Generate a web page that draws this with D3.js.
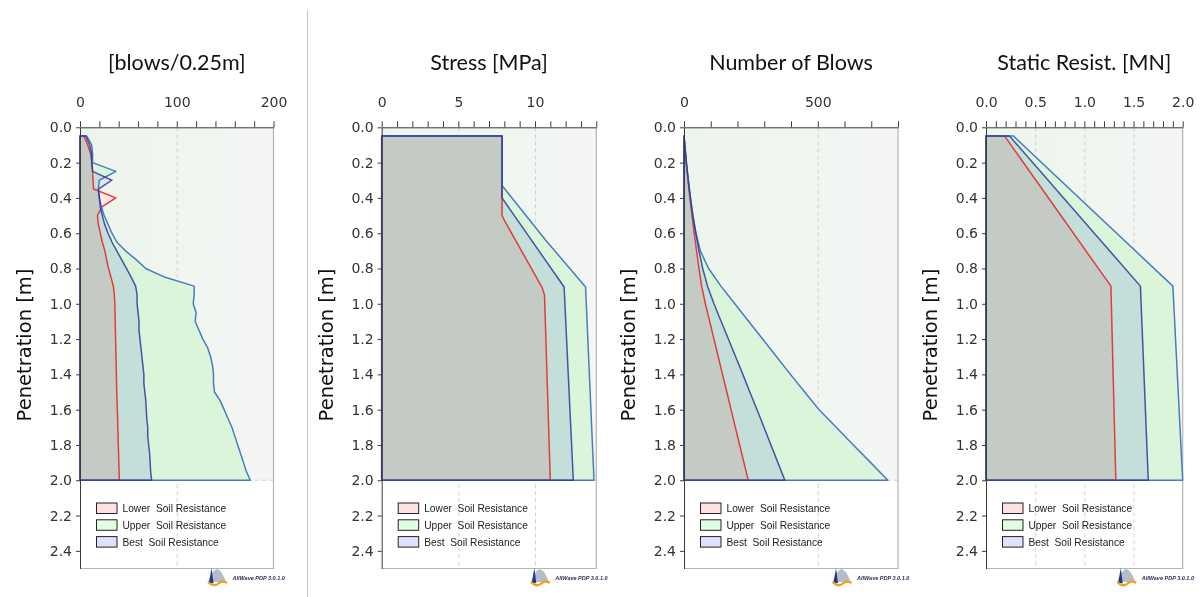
<!DOCTYPE html>
<html><head><meta charset="utf-8">
<script src="https://cdn.jsdelivr.net/npm/d3@7"></script>
<style>
body{margin:0;background:#fff;}
svg{display:block;}
</style></head><body>
<svg id="c" width="1203" height="597"></svg>
<script>
// ---------------- DATA ----------------
const depthTicks = [0,0.2,0.4,0.6,0.8,1.0,1.2,1.4,1.6,1.8,2.0,2.2,2.4];
const legendNames = ["Lower  Soil Resistance","Upper  Soil Resistance","Best  Soil Resistance"];
const panelTitles = ["[blows/0.25m]","Stress [MPa]","Number of Blows","Static Resist. [MN]"];
const yTitle = "Penetration [m]";
const logoText = "AllWave PDP 3.0.1.0";

// Panel 1: blows per 0.25 m
const blowsDepth = [0.05,0.10,0.15,0.20,0.25,0.30,0.35,0.40,0.45,0.50,0.55,0.60,0.65,0.70,0.75,0.80,0.85,0.90,0.95,1.00,
                    1.05,1.10,1.15,1.20,1.25,1.30,1.35,1.40,1.45,1.50,1.55,1.60,1.65,1.70,1.75,1.80,1.85,1.90,1.95,2.00];
const blowsLower = [4,8,11,12.5,13,13.5,14,37,23,18,19,21,23,25.7,27.5,29.5,32,34.5,35.5,36,
                    36.2,36.4,36.6,36.8,37,37.2,37.4,37.6,37.8,38,38.3,38.6,38.9,39.1,39.4,39.6,39.9,40.1,40.4,40.6];
const blowsBest  = [6,10,12,12,13,33,19,20,21,23,25.5,29,33,38,43,48,53,57.5,59,59,
                    60,61,61,62,63,64,65,66,66,67,68,68.5,69,70,70,71,72,72.5,73,74];
const blowsUpper = [7,12,13,13,37,20,19,20,22,25,29,33,38,47,58,68,88,118,118,117,
                    120,119,123,127,132,135,137,138,138,139,145,149,153,157,160,163,166,169,172,176];
const blowsTicks = [0,100,200];

// Panel 2: stress [MPa]
const stressLowerDepth = [0.05,0.50,0.535,0.905,0.95,2.0];
const stressLower      = [7.85,7.85,8.05,10.45,10.62,11.0];
const stressBestDepth  = [0.05,0.40,0.905,2.0];
const stressBest       = [7.85,7.85,11.9,12.5];
const stressUpperDepth = [0.05,0.33,0.64,0.905,2.0];
const stressUpper      = [7.85,7.85,10.7,13.3,13.85];
const stressTicks = [0,5,10];

// Panel 3: cumulative number of blows
const cumDepth = [0.05,0.1,0.2,0.3,0.4,0.5,0.6,0.7,0.8,0.9,1.0,1.1,1.2,1.3,1.4,1.5,1.6,1.7,1.8,1.9,2.0];
const cumLower = [0,3,8,15,22,30,38,47,56,66,80,96,112,128,144,160,176,192,208,224,240];
const cumBest  = [0,3,9,16,24,33,44,56,70,88,112,139,166,193,220,246,273,299,325,351,377];
const cumUpper = [0,3,9,16,24,33,45,61,92,138,190,242,294,346,398,451,505,569,633,698,762];
const cumTicks = [0,500];

// Panel 4: static resistance [MN]
const staticDepth = [0.05,0.90,2.00];
const staticLower = [0.19,1.27,1.32];
const staticBest  = [0.24,1.57,1.65];
const staticUpper = [0.28,1.90,2.00];
const staticTicks = [0,0.5,1.0,1.5,2.0];

// ---------------- LAYOUT ----------------
const svg = d3.select("#c");
const yTop = 127.3, yBot = 568.5;
const y = d3.scaleLinear().domain([0,2.5]).range([yTop,yBot]);

const panels = [
  {title:panelTitles[0], x0:80, x1:273.5, max:200, major:blowsTicks, minorStep:20, fmt:d3.format("d"),
   lower:[blowsDepth,blowsLower], best:[blowsDepth,blowsBest], upper:[blowsDepth,blowsUpper]},
  {title:panelTitles[1], x0:381.7, x1:596.3, max:14, major:stressTicks, minorStep:1, fmt:d3.format("d"),
   lower:[stressLowerDepth,stressLower], best:[stressBestDepth,stressBest], upper:[stressUpperDepth,stressUpper]},
  {title:panelTitles[2], x0:684, x1:898, max:800, major:cumTicks, minorStep:100, fmt:d3.format("d"),
   lower:[cumDepth,cumLower], best:[cumDepth,cumBest], upper:[cumDepth,cumUpper]},
  {title:panelTitles[3], x0:986, x1:1182.7, max:2, major:staticTicks, minorStep:0.1, fmt:d3.format(".1f"),
   lower:[staticDepth,staticLower], best:[staticDepth,staticBest], upper:[staticDepth,staticUpper]}
];

const defs = svg.append("defs");
const grad = defs.append("linearGradient").attr("id","bg").attr("x1","0").attr("x2","1").attr("y1","0").attr("y2","0");
grad.append("stop").attr("offset","0").attr("stop-color","#ecf5ec");
grad.append("stop").attr("offset","1").attr("stop-color","#f4f6f4");

// separator
svg.append("line").attr("x1",307.5).attr("x2",307.5).attr("y1",10).attr("y2",597)
  .attr("stroke","#c4c4c4").attr("stroke-width",1);

const fillCol = {upper:"#daf5da", best:"#e5e8ff", lower:"#ffe8e7"};
const lineCol = {upper:"#4a7cc2", best:"#2b3a9e", lower:"#e23c3c"};
const legendFill = ["#ffe0e0","#e0ffe0","#e0e0ff"];

panels.forEach(p => {
  const x = d3.scaleLinear().domain([0,p.max]).range([p.x0,p.x1]);
  const g = svg.append("g");

  // background
  g.append("rect").attr("x",x(0)).attr("y",y(0)).attr("width",x(p.max)-x(0)).attr("height",y(2.0)-y(0))
    .attr("fill","url(#bg)");

  // vertical grid
  g.selectAll(".grid").data(p.major.filter(v => v>0 && v<p.max)).join("line")
    .attr("x1",d=>x(d)+0.5).attr("x2",d=>x(d)+0.5).attr("y1",y(0)).attr("y2",y(2.5))
    .attr("stroke","#d2d2d2").attr("stroke-dasharray","4,3");
  // horizontal dashed at 2.0
  g.append("line").attr("x1",x(0)).attr("x2",x(p.max)).attr("y1",y(2.0)).attr("y2",y(2.0))
    .attr("stroke","#d2d2d2").attr("stroke-dasharray","4,3");

  // frame right and bottom
  g.append("path").attr("d",`M${x(p.max)},${y(0)}V${y(2.5)}H${x(0)}`)
    .attr("fill","none").attr("stroke","#b4b4b4").attr("stroke-width",1.2);

  const line = d3.line().x(q=>x(q[0])).y(q=>y(q[1]));
  const poly = s => {
    const [d,v] = s;
    const pts = [[0,d[0]]];
    d.forEach((dd,i)=>pts.push([v[i],dd]));
    pts.push([0,d[d.length-1]]);
    return line(pts) + "Z";
  };

  // fills (multiply blended in an isolated group)
  const fg = g.append("g").style("isolation","isolate");
  ["upper","best","lower"].forEach(k => {
    fg.append("path").attr("d",poly(p[k])).attr("fill",fillCol[k]).style("mix-blend-mode","multiply");
  });
  // outlines
  ["lower","upper","best"].forEach(k => {
    g.append("path").attr("d",poly(p[k])).attr("fill","none").attr("stroke",lineCol[k])
      .attr("stroke-width",1.5).attr("stroke-linejoin","round").attr("stroke-opacity",k==="best"?0.85:1);
  });

  // top axis
  const minor = d3.range(0, p.max + p.minorStep/2, p.minorStep).map(v=>+v.toFixed(4));
  const majSet = new Set(p.major.map(v=>+v.toFixed(4)));
  const ax = g.append("g").attr("transform",`translate(0,${y(0)})`)
    .call(d3.axisTop(x).tickValues(minor).tickSize(6).tickSizeOuter(0).tickPadding(14)
      .tickFormat(d => majSet.has(+d.toFixed(4)) ? p.fmt(d) : ""));
  ax.select(".domain").attr("stroke","#3c3c3c");
  ax.selectAll(".tick line").attr("stroke","#3c3c3c");
  ax.selectAll("text").attr("font-family","DejaVu Sans").attr("font-size",14).attr("fill","#333");

  // left axis
  const ay = g.append("g").attr("transform",`translate(${x(0)},0)`)
    .call(d3.axisLeft(y).tickValues(depthTicks).tickSize(4).tickSizeOuter(0).tickPadding(4)
      .tickFormat(d3.format(".1f")));
  ay.select(".domain").attr("stroke","#3c3c3c");
  ay.selectAll(".tick line").attr("stroke","#3c3c3c");
  ay.selectAll("text").attr("font-family","DejaVu Sans").attr("font-size",14).attr("fill","#333");

  // titles
  g.append("text").attr("x",(p.x0+p.x1)/2).attr("y",70).attr("text-anchor","middle")
    .attr("font-family","Lato").attr("font-size",21.5).attr("fill","#111").text(p.title);
  g.append("text").attr("transform",`translate(${p.x0-49},${345}) rotate(-90)`).attr("text-anchor","middle")
    .attr("font-family","DejaVu Sans").attr("font-size",19.5).attr("fill","#111").text(yTitle);

  // legend
  legendNames.forEach((n,i) => {
    const ty = 503 + i*16.8;
    g.append("rect").attr("x",p.x0+16.5).attr("y",ty).attr("width",20.5).attr("height",10.5)
      .attr("fill",legendFill[i]).attr("stroke","#222").attr("stroke-width",1);
    g.append("text").attr("x",p.x0+42.5).attr("y",ty+9.3).attr("font-family","Liberation Sans")
      .attr("font-size",10.2).attr("fill","#222").style("white-space","pre").text(n);
  });

  // logo
  const lx = p.x1 - 65.5, ly = 567;
  const lg = g.append("g");
  lg.append("path").attr("d",`M${lx},${ly+15}Q${lx+4},${ly+3} ${lx+9},${ly+2}Q${lx+14},${ly+3} ${lx+18},${ly+15}Z`)
    .attr("fill","#b8bcc8");
  lg.append("path").attr("d",`M${lx+1},${ly+16}L${lx+3.5},${ly+1}L${lx+5.5},${ly+16}Z`).attr("fill","#1f3a8a");
  lg.append("path").attr("d",`M${lx},${ly+15}Q${lx+6},${ly+21} ${lx+11},${ly+16}Q${lx+15},${ly+13} ${lx+19},${ly+16}`)
    .attr("fill","none").attr("stroke","#f0a020").attr("stroke-width",2.2);
  lg.append("text").attr("x",p.x1-41).attr("y",580).attr("font-family","Liberation Sans").attr("font-size",5.5)
    .attr("font-style","italic").attr("font-weight","bold").attr("fill","#2a3050").text(logoText);
});
</script>
</body></html>
